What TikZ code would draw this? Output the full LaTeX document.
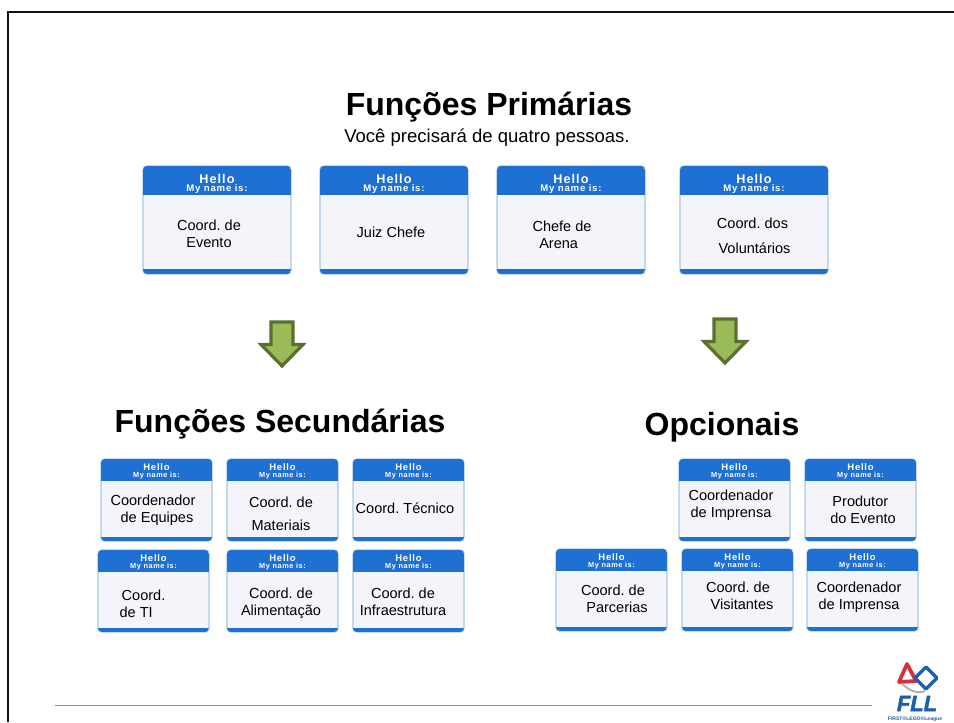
\documentclass[tikz,border=0pt]{standalone}
\usepackage{fontspec}
\usepackage{xcolor}
\usetikzlibrary{calc}
\setmainfont{Liberation Sans}
\newfontfamily\hellofont[LetterSpace=8]{Liberation Sans}
\frenchspacing
\definecolor{frame}{HTML}{111111}
\definecolor{rule}{HTML}{8C8C8C}
\definecolor{tagblue}{HTML}{1F70D3}
\definecolor{tagbody}{HTML}{F3F5FA}
\definecolor{tagedge}{HTML}{A9C8E4}
\definecolor{arrowfill}{HTML}{9BBB59}
\definecolor{arrowdraw}{HTML}{5B7030}
\definecolor{flired}{HTML}{D8303A}
\definecolor{fllblue}{HTML}{1B5FAE}
\tikzset{
  title/.style={font=\bfseries\fontsize{24}{28}\selectfont, text=black, inner sep=0pt},
  subtitle/.style={font=\fontsize{13.9}{16}\selectfont, text=black, inner sep=0pt},
  tagbox/.style={rectangle, rounded corners=3, fill=tagbody, draw=tagedge, line width=1.1pt, inner sep=0pt, outer sep=0pt},
  role/.style={font=\fontsize{10.9}{13}\selectfont, text=black, align=center, inner sep=0pt},
  hello/.style={font=\hellofont\bfseries, text=white, inner sep=0pt},
  downarrow/.style={fill=arrowfill, draw=arrowdraw, line width=2.4pt, line join=miter}
}
% name, left, top, width, height, header, band, hello sizes, text x, text y, text
\newcommand{\nametag}[9]{%
  \node[tagbox, minimum width=#4*0.75pt, minimum height=#5*0.75pt] (#1) at ({#2+#4/2},{#3+#5/2}) {};
  \begin{scope}
    \clip[rounded corners=3] (#1.south west) rectangle (#1.north east);
    \fill[tagblue] (#1.north west) rectangle ++(#4,#6);
    \fill[tagblue] (#1.south west) rectangle ++(#4,-#7);
  \end{scope}
  \node[hello, font=\hellofont\bfseries\fontsize{#8}{#8}\selectfont] (#1h) at ($(#1.north)+(0,#9)$) {Hello};
}
\newcommand{\bigtag}[6]{%
  \nametag{#1}{#2}{#3}{148}{108}{29}{5}{9.5}{12.5}
  \node[hello, font=\hellofont\bfseries\fontsize{7.2}{8}\selectfont] (#1m) at ($(#1.north)+(0,23)$) {My name is:};
  \node[role] (#1t) at (#4,#5) {#6};
}
\newcommand{\smalltag}[6]{%
  \nametag{#1}{#2}{#3}{111}{82}{22}{4}{7.1}{8.5}
  \node[hello, font=\hellofont\bfseries\fontsize{5.5}{6}\selectfont] (#1m) at ($(#1.north)+(0,17)$) {My name is:};
  \node[role] (#1t) at (#4,#5) {#6};
}
\begin{document}
\begin{tikzpicture}[x=0.75pt,y=-0.75pt]
  \useasboundingbox (0,0) rectangle (954,722);
  \draw[frame, line width=2pt] (8,722) -- (8,12) -- (954,12);
  \draw[rule, line width=1pt] (55,705.5) -- (872,705.5);

  \node[title] (primarias) at (489,107) {Funções Primárias};
  \node[subtitle] (quatro) at (487,138) {Você precisará de quatro pessoas.};
  \node[title] (secundarias) at (280,424) {Funções Secundárias};
  \node[title] (opcionais) at (722,427) {Opcionais};

  \bigtag{evento}{143}{166}{209}{234}{Coord. de\\Evento}
  \bigtag{juiz}{320}{166}{391}{232}{Juiz Chefe}
  \bigtag{arena}{497}{166}{562}{234.5}{Chefe de\\Arena\hspace*{5pt}}
  \bigtag{voluntarios}{680}{166}{754.5}{235.5}{Coord. dos\hspace*{3pt}\\[6pt]Voluntários}

  \draw[downarrow] (271,322) -- (293,322) -- (293,344.5) -- (303,344.5) -- (282,366) -- (261,344.5) -- (271,344.5) -- cycle;
  \draw[downarrow] (714,319) -- (736,319) -- (736,341.5) -- (746,341.5) -- (725,363) -- (704,341.5) -- (714,341.5) -- cycle;

  \smalltag{equipes}{101}{459}{153}{510.5}{Coordenador\\\hspace*{6pt}de Equipes}
  \smalltag{materiais}{227}{459}{281}{514}{Coord. de\\[4pt]Materiais}
  \smalltag{tecnico}{353}{459}{405}{508}{Coord. Técnico}
  \smalltag{ti}{98}{550}{143.5}{603.5}{\hspace*{0pt}Coord.\\de TI\hspace*{11pt}}
  \smalltag{alimentacao}{227}{550}{281}{603.5}{Coord. de\\Alimentação}
  \smalltag{infra}{353}{550}{403}{602}{Coord. de\\Infraestrutura}

  \smalltag{imprensaa}{679}{459}{731}{505}{Coordenador\\de Imprensa}
  \smalltag{produtor}{805}{459}{863}{510}{Produtor\hspace*{4pt}\\do Evento}
  \smalltag{parcerias}{556}{549}{617}{598.5}{Coord. de\hspace*{6pt}\\Parcerias}
  \smalltag{visitantes}{682}{549}{742}{596}{Coord. de\hspace*{6pt}\\Visitantes}
  \smalltag{imprensab}{807}{549}{859}{597}{Coordenador\\de Imprensa}

  % logo
  \draw[flired, line width=2.8pt, line join=round] (907,664) -- (916,681) -- (899,682) -- cycle;
  \draw[fllblue, line width=2.6pt, line join=round] (926,667) -- (937,678) -- (926,689) -- (915,678) -- cycle;
  \draw[gray!60, line width=1.5pt] (902,684) to[out=-40,in=200] (925,691);
  \node[font=\bfseries\itshape\addfontfeature{FakeBold=2}\fontsize{16.5}{18}\selectfont, text=fllblue, inner sep=0pt] (fll) at (917,703.5) {FLL};
  \node[font=\bfseries\fontsize{3.8}{4}\selectfont, text=fllblue, inner sep=0pt] (league) at (915,719) {FIRST®LEGO®League};
\end{tikzpicture}
\end{document}
